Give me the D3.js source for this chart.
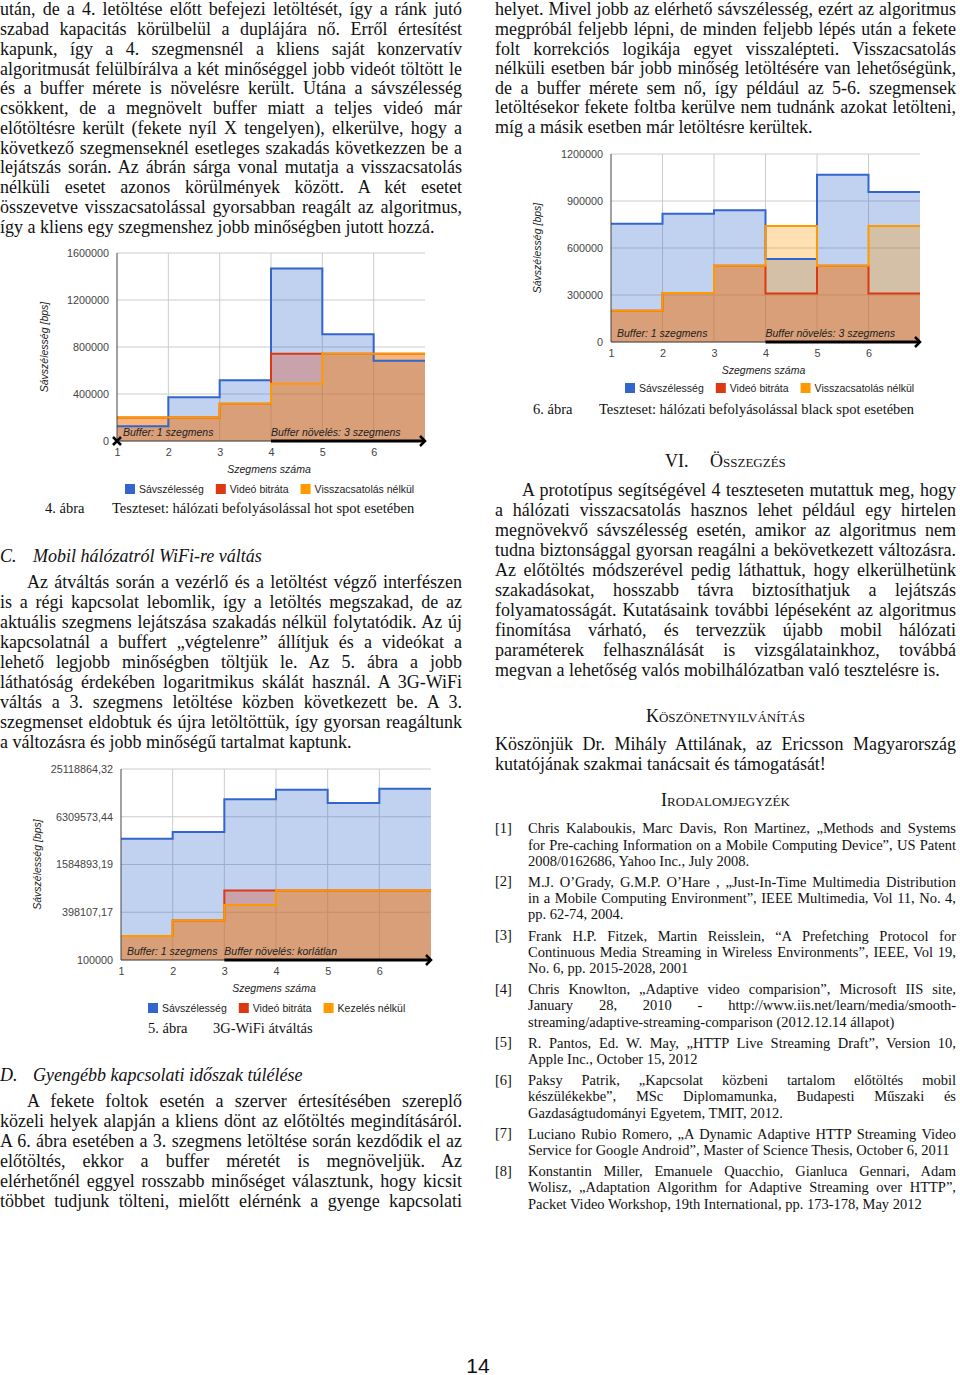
<!DOCTYPE html>
<html>
<head>
<meta charset="utf-8">
<script src="https://cdn.jsdelivr.net/npm/d3@7"></script>
<style>
	body { margin: 0; width: 960px; height: 1375px; position: relative; overflow: hidden; background: #fff;
		font-family: "Liberation Serif", "Times New Roman", serif; color: #111; }
	svg { position: absolute; left: 0; top: 0; }
	.ln { position: absolute; white-space: normal; text-align: justify; text-align-last: justify; overflow: visible; }
	.hd { position: absolute; white-space: nowrap; }
</style>
</head>
<body>
<script>
// ---- chart data ----
const segments = [1, 2, 3, 4, 5, 6];
const seriesColors = ["#3366cc", "#dc3912", "#ff9900"];

const fig4Names = ["Sávszélesség", "Videó bitráta", "Visszacsatolás nélkül"];
const fig4Bandwidth = [125000, 373000, 518000, 1469000, 908000, 683000];
const fig4Bitrate = [200000, 200000, 316000, 743000, 743000, 743000];
const fig4NoFeedback = [200000, 200000, 316000, 487000, 743000, 743000];
const fig4Ticks = [0, 400000, 800000, 1200000, 1600000];
const fig4TickLabels = ["0", "400000", "800000", "1200000", "1600000"];

const fig5Names = ["Sávszélesség", "Videó bitráta", "Kezelés nélkül"];
const fig5Bandwidth = [3340000, 4050000, 10500000, 13800000, 9380000, 14200000];
const fig5Bitrate = [200000, 313000, 746000, 746000, 746000, 746000];
const fig5NoHandling = [200000, 313000, 492000, 746000, 746000, 746000];
const fig5Ticks = [100000, 398107.17, 1584893.19, 6309573.44, 25118864.32];
const fig5TickLabels = ["100000", "398107,17", "1584893,19", "6309573,44", "25118864,32"];

const fig6Names = ["Sávszélesség", "Videó bitráta", "Visszacsatolás nélkül"];
const fig6Bandwidth = [754000, 818000, 841000, 529000, 1068000, 958000];
const fig6Bitrate = [200000, 312000, 486000, 310000, 486000, 310000];
const fig6NoFeedback = [200000, 312000, 486000, 741000, 486000, 741000];
const fig6Ticks = [0, 300000, 600000, 900000, 1200000];
const fig6TickLabels = ["0", "300000", "600000", "900000", "1200000"];

const xTitle = "Szegmens száma";
const yTitle = "Sávszélesség [bps]";
const bufferStartText = "Buffer: 1 szegmens";

// ---- page text ----
const leftTop = [
	"után, de a 4. letöltése előtt befejezi letöltését, így a ránk jutó",
	"szabad kapacitás körülbelül a duplájára nő. Erről értesítést",
	"kapunk, így a 4. szegmensnél a kliens saját konzervatív",
	"algoritmusát felülbírálva a két minőséggel jobb videót töltött le",
	"és a buffer mérete is növelésre került. Utána a sávszélesség",
	"csökkent, de a megnövelt buffer miatt a teljes videó már",
	"előtöltésre került (fekete nyíl X tengelyen), elkerülve, hogy a",
	"következő szegmenseknél esetleges szakadás következzen be a",
	"lejátszás során. Az ábrán sárga vonal mutatja a visszacsatolás",
	"nélküli esetet azonos körülmények között. A két esetet",
	"összevetve visszacsatolással gyorsabban reagált az algoritmus,",
	"így a kliens egy szegmenshez jobb minőségben jutott hozzá."
];
const paraC = [
	"Az átváltás során a vezérlő és a letöltést végző interfészen",
	"is a régi kapcsolat lebomlik, így a letöltés megszakad, de az",
	"aktuális szegmens lejátszása szakadás nélkül folytatódik. Az új",
	"kapcsolatnál a buffert „végtelenre” állítjuk és a videókat a",
	"lehető legjobb minőségben töltjük le. Az 5. ábra a jobb",
	"láthatóság érdekében logaritmikus skálát használ. A 3G-WiFi",
	"váltás a 3. szegmens letöltése közben következett be. A 3.",
	"szegmenset eldobtuk és újra letöltöttük, így gyorsan reagáltunk",
	"a változásra és jobb minőségű tartalmat kaptunk."
];
const paraD = [
	"A fekete foltok esetén a szerver értesítésében szereplő",
	"közeli helyek alapján a kliens dönt az előtöltés megindításáról.",
	"A 6. ábra esetében a 3. szegmens letöltése során kezdődik el az",
	"előtöltés, ekkor a buffer méretét is megnöveljük. Az",
	"elérhetőnél eggyel rosszabb minőséget választunk, hogy kicsit",
	"többet tudjunk tölteni, mielőtt elérnénk a gyenge kapcsolati"
];
const rightTop = [
	"helyet. Mivel jobb az elérhető sávszélesség, ezért az algoritmus",
	"megpróbál feljebb lépni, de minden feljebb lépés után a fekete",
	"folt korrekciós logikája egyet visszalépteti. Visszacsatolás",
	"nélküli esetben bár jobb minőség letöltésére van lehetőségünk,",
	"de a buffer mérete sem nő, így például az 5-6. szegmensek",
	"letöltésekor fekete foltba kerülve nem tudnánk azokat letölteni,",
	"míg a másik esetben már letöltésre kerültek."
];
const paraSummary = [
	"A prototípus segítségével 4 teszteseten mutattuk meg, hogy",
	"a hálózati visszacsatolás hasznos lehet például egy hirtelen",
	"megnövekvő sávszélesség esetén, amikor az algoritmus nem",
	"tudna biztonsággal gyorsan reagálni a bekövetkezett változásra.",
	"Az előtöltés módszerével pedig láthattuk, hogy elkerülhetünk",
	"szakadásokat, hosszabb távra biztosíthatjuk a lejátszás",
	"folyamatosságát. Kutatásaink további lépéseként az algoritmus",
	"finomítása várható, és tervezzük újabb mobil hálózati",
	"paraméterek felhasználását is vizsgálatainkhoz, továbbá",
	"megvan a lehetőség valós mobilhálózatban való tesztelésre is."
];
const paraThanks = [
	"Köszönjük Dr. Mihály Attilának, az Ericsson Magyarország",
	"kutatójának szakmai tanácsait és támogatását!"
];
const references = [
	["Chris Kalaboukis, Marc Davis, Ron Martinez, „Methods and Systems",
	 "for Pre-caching Information on a Mobile Computing Device”, US Patent",
	 "2008/0162686, Yahoo Inc., July 2008."],
	["M.J. O’Grady, G.M.P. O’Hare , „Just-In-Time Multimedia Distribution",
	 "in a Mobile Computing Environment”, IEEE Multimedia, Vol 11, No. 4,",
	 "pp. 62-74, 2004."],
	["Frank H.P. Fitzek, Martin Reisslein, “A Prefetching Protocol for",
	 "Continuous Media Streaming in Wireless Environments”, IEEE, Vol 19,",
	 "No. 6, pp. 2015-2028, 2001"],
	["Chris Knowlton, „Adaptive video comparision”, Microsoft IIS site,",
	 "January 28, 2010 - http://www.iis.net/learn/media/smooth-",
	 "streaming/adaptive-streaming-comparison (2012.12.14 állapot)"],
	["R. Pantos, Ed. W. May, „HTTP Live Streaming Draft”, Version 10,",
	 "Apple Inc., October 15, 2012"],
	["Paksy Patrik, „Kapcsolat közbeni tartalom előtöltés mobil",
	 "készülékekbe”, MSc Diplomamunka, Budapesti Műszaki és",
	 "Gazdaságtudományi Egyetem, TMIT, 2012."],
	["Luciano Rubio Romero, „A Dynamic Adaptive HTTP Streaming Video",
	 "Service for Google Android”, Master of Science Thesis, October 6, 2011"],
	["Konstantin Miller, Emanuele Quacchio, Gianluca Gennari, Adam",
	 "Wolisz, „Adaptation Algorithm for Adaptive Streaming over HTTP”,",
	 "Packet Video Workshop, 19th International, pp. 173-178, May 2012"]
];

const body = d3.select("body");
const svg = body.append("svg").attr("width", 960).attr("height", 1375);

// ---- text helpers ----
function fitLine(el, w) {
	el.style.whiteSpace = "nowrap";
	const r = document.createRange();
	r.selectNodeContents(el);
	const nat = r.getBoundingClientRect().width;
	if (nat > w - 0.5) {
		const gaps = (el.textContent.match(/ /g) || []).length || 1;
		el.style.wordSpacing = ((w - 0.5 - nat) / gaps) + "px";
	}
	el.style.whiteSpace = "normal";
}

function addLines(x, baseline, width, lines, opts) {
	const fs = opts.size;
	lines.forEach((t, i) => {
		const ind = i === 0 ? (opts.indent || 0) : 0;
		const isLast = i === lines.length - 1 && !opts.open;
		const b = baseline + i * opts.lh;
		// keep the line box inside the page: shrink line-height for lines hugging the top edge
		let lh = opts.lh;
		if (b - (lh / 2 + 0.3375 * fs) < 0) lh = 2 * (b - 0.3375 * fs);
		const top = b - (lh / 2 + 0.3375 * fs);
		const div = body.append("div")
			.attr("class", "ln")
			.style("left", (x + ind) + "px")
			.style("top", top + "px")
			.style("width", (width - ind) + "px")
			.style("font-size", fs + "px")
			.style("line-height", lh + "px")
			.style("text-align-last", isLast ? "left" : "justify")
			.text(t);
		fitLine(div.node(), width - ind);
	});
}

function addText(x, baseline, text, size, extra) {
	const lh = size * 1.2;
	const div = body.append("div")
		.attr("class", "hd")
		.style("left", x + "px")
		.style("top", (baseline - (lh / 2 + 0.3375 * size)) + "px")
		.style("font-size", size + "px")
		.style("line-height", lh + "px")
		.text(text);
	if (extra) extra(div);
	return div;
}

function addCentered(cx, baseline, text, size, extra) {
	const div = addText(0, baseline, text, size, extra);
	const w = div.node().getBoundingClientRect().width;
	div.style("left", (cx - w / 2) + "px");
	return div;
}

const italic = (d) => d.style("font-style", "italic");
const smallCaps = (d) => d.style("font-variant", "small-caps");

// ---- charts ----
function drawChart(cfg) {
	const x = d3.scaleLinear().domain([1, 7]).range([cfg.left, cfg.right]);
	const y = (cfg.log ? d3.scaleLog() : d3.scaleLinear())
		.domain([cfg.ticks[0], cfg.ticks[cfg.ticks.length - 1]])
		.range([cfg.bottom, cfg.top]);
	const base = cfg.ticks[0];
	const font = "'Liberation Sans', Arial, sans-serif";
	const g = svg.append("g");

	g.append("g").selectAll("line").data(cfg.ticks).join("line")
		.attr("x1", cfg.left).attr("x2", cfg.right)
		.attr("y1", (d) => y(d)).attr("y2", (d) => y(d))
		.attr("stroke", "#cccccc");
	g.append("g").selectAll("line").data(segments.slice(1)).join("line")
		.attr("x1", (d) => x(d)).attr("x2", (d) => x(d))
		.attr("y1", cfg.top).attr("y2", cfg.bottom)
		.attr("stroke", "#cccccc");

	const stepPoints = (vals) => segments.map((s, i) => [s, vals[i]]).concat([[7, vals[vals.length - 1]]]);
	const area = d3.area().curve(d3.curveStepAfter)
		.x((d) => x(d[0])).y0(y(base)).y1((d) => y(d[1]));
	const line = d3.line().curve(d3.curveStepAfter)
		.x((d) => x(d[0])).y((d) => y(d[1]));

	cfg.series.forEach((vals, i) => {
		g.append("path").attr("d", area(stepPoints(vals)))
			.attr("fill", seriesColors[i]).attr("fill-opacity", 0.3);
	});
	cfg.series.forEach((vals, i) => {
		g.append("path").attr("d", line(stepPoints(vals)))
			.attr("fill", "none").attr("stroke", seriesColors[i]).attr("stroke-width", 2);
	});

	// axis lines
	g.append("line").attr("x1", cfg.left).attr("x2", cfg.left)
		.attr("y1", cfg.top).attr("y2", cfg.bottom).attr("stroke", "#444");
	g.append("line").attr("x1", cfg.left).attr("x2", cfg.right)
		.attr("y1", cfg.bottom).attr("y2", cfg.bottom).attr("stroke", "#444");

	const yAxis = g.append("g")
		.attr("transform", `translate(${cfg.left},0)`)
		.call(d3.axisLeft(y).tickValues(cfg.ticks).tickFormat((d, i) => cfg.labels[i]).tickSize(0).tickPadding(8));
	yAxis.select(".domain").remove();
	yAxis.attr("font-family", font).attr("font-size", 10.8);
	yAxis.selectAll("text").attr("fill", "#444");

	const xAxis = g.append("g")
		.attr("transform", `translate(0,${cfg.bottom})`)
		.call(d3.axisBottom(x).tickValues(segments).tickFormat(d3.format("d")).tickSize(0).tickPadding(7));
	xAxis.select(".domain").remove();
	xAxis.attr("font-family", font).attr("font-size", 10.8);
	xAxis.selectAll("text").attr("fill", "#444");

	// titles
	g.append("text")
		.attr("x", (cfg.left + cfg.right) / 2 - 2)
		.attr("y", cfg.bottom + 32)
		.attr("text-anchor", "middle")
		.attr("font-family", font).attr("font-size", 10.5).attr("font-style", "italic")
		.attr("fill", "#222").text(xTitle);
	g.append("text")
		.attr("transform", `translate(${cfg.yTitleX},${(cfg.top + cfg.bottom) / 2}) rotate(-90)`)
		.attr("text-anchor", "middle").attr("dy", "0.35em")
		.attr("font-family", font).attr("font-size", 10.5).attr("font-style", "italic")
		.attr("fill", "#222").text(yTitle);

	// annotations
	g.append("text")
		.attr("x", x(1) + 6).attr("y", cfg.bottom - 5)
		.attr("font-family", font).attr("font-size", 10.5).attr("font-style", "italic")
		.attr("fill", "#222").text(bufferStartText);
	g.append("text")
		.attr("x", x(cfg.bufferStart)).attr("y", cfg.bottom - 5)
		.attr("font-family", font).attr("font-size", 10.5).attr("font-style", "italic")
		.attr("fill", "#222").text(cfg.bufferText);

	g.append("line")
		.attr("x1", x(cfg.bufferStart)).attr("x2", cfg.right - 1)
		.attr("y1", cfg.bottom).attr("y2", cfg.bottom)
		.attr("stroke", "#000").attr("stroke-width", 3);
	g.append("path")
		.attr("d", `M${cfg.right - 5},${cfg.bottom - 5}L${cfg.right},${cfg.bottom}L${cfg.right - 5},${cfg.bottom + 5}`)
		.attr("fill", "none").attr("stroke", "#000").attr("stroke-width", 2.5);

	if (cfg.startMark) {
		const x0 = x(1);
		const y0 = cfg.bottom;
		g.append("path")
			.attr("d", `M${x0 - 4},${y0 - 4}L${x0 + 4},${y0 + 4}M${x0 - 4},${y0 + 4}L${x0 + 4},${y0 - 4}`)
			.attr("stroke", "#000").attr("stroke-width", 2.5);
	}

	// legend
	let lx = cfg.legendX;
	cfg.names.forEach((name, i) => {
		g.append("rect")
			.attr("x", lx).attr("y", cfg.legendY - 5).attr("width", 10).attr("height", 10)
			.attr("fill", seriesColors[i]);
		const t = g.append("text")
			.attr("x", lx + 14).attr("y", cfg.legendY).attr("dy", "0.35em")
			.attr("font-family", font).attr("font-size", 10.5)
			.attr("fill", "#222").text(name);
		lx += 14 + t.node().getComputedTextLength() + 12;
	});
}

drawChart({
	left: 117, right: 425, top: 253, bottom: 441, log: false,
	ticks: fig4Ticks, labels: fig4TickLabels,
	series: [fig4Bandwidth, fig4Bitrate, fig4NoFeedback], names: fig4Names,
	yTitleX: 44, legendX: 125, legendY: 489,
	bufferStart: 4, bufferText: "Buffer növelés: 3 szegmens", startMark: true
});
drawChart({
	left: 121, right: 431, top: 769, bottom: 960, log: true,
	ticks: fig5Ticks, labels: fig5TickLabels,
	series: [fig5Bandwidth, fig5Bitrate, fig5NoHandling], names: fig5Names,
	yTitleX: 37, legendX: 148, legendY: 1008,
	bufferStart: 3, bufferText: "Buffer növelés: korlátlan", startMark: false
});
drawChart({
	left: 611, right: 920, top: 154, bottom: 342, log: false,
	ticks: fig6Ticks, labels: fig6TickLabels,
	series: [fig6Bandwidth, fig6Bitrate, fig6NoFeedback], names: fig6Names,
	yTitleX: 537, legendX: 625, legendY: 388,
	bufferStart: 4, bufferText: "Buffer növelés: 3 szegmens", startMark: false
});

// ---- page text ----
const BODY = { size: 18, lh: 20 };
const REF = { size: 14.5, lh: 16.2 };

// left column (top block sits a touch lower so its accents stay on the page)
addLines(0, 16.2, 462, leftTop, { ...BODY, lh: 19.78 });
addText(45, 514, "4. ábra", 14.5);
addText(112, 514, "Teszteset: hálózati befolyásolással hot spot esetében", 14.5);
addText(0, 563, "C.", 18, italic);
addText(33, 563, "Mobil hálózatról WiFi-re váltás", 18, italic);
addLines(0, 588.3, 462, paraC, { ...BODY, indent: 27 });
addText(148, 1034, "5. ábra", 14.5);
addText(213, 1034, "3G-WiFi átváltás", 14.5);
addText(0, 1082, "D.", 18, italic);
addText(33, 1082, "Gyengébb kapcsolati időszak túlélése", 18, italic);
addLines(0, 1107.3, 462, paraD, { ...BODY, indent: 27, open: true });

// right column
addLines(495, 16.2, 461, rightTop, { ...BODY, lh: 19.6 });
addText(533, 415, "6. ábra", 14.5);
addText(599, 415, "Teszteset: hálózati befolyásolással black spot esetében", 14.5);
addText(665, 467.7, "VI.", 18);
addText(710, 467.7, "Összegzés", 18, smallCaps);
addLines(495, 496, 461, paraSummary, { ...BODY, indent: 27 });
addCentered(725.5, 722.7, "Köszönetnyilvánítás", 18, smallCaps);
addLines(495, 750, 461, paraThanks, BODY);
addCentered(725.5, 807.3, "Irodalomjegyzék", 18, smallCaps);

let refBase = 833.3;
references.forEach((lines, i) => {
	addText(495, refBase, `[${i + 1}]`, 14.5);
	addLines(528, refBase, 428, lines, REF);
	refBase += lines.length * REF.lh + 5;
});

// page number
addCentered(478, 1373, "14", 21, (d) => d.style("font-family", "'Liberation Sans', Arial, sans-serif"));
</script>
</body>
</html>
